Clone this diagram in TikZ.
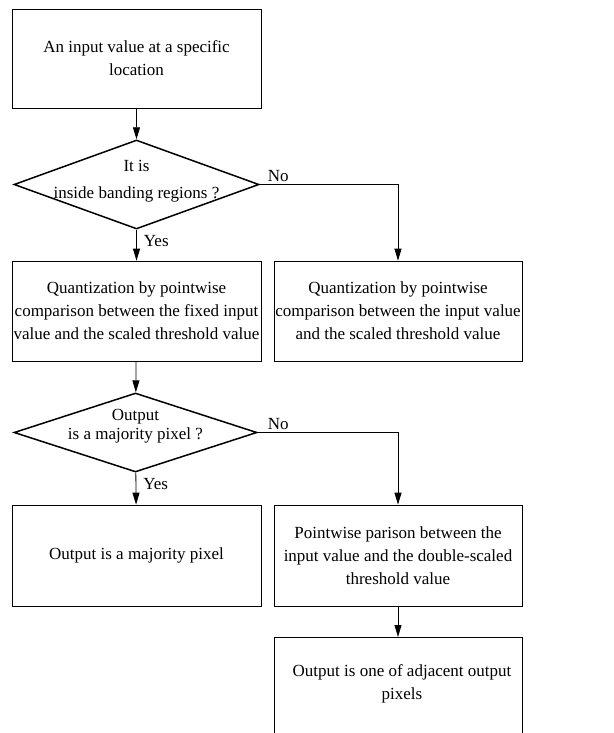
\documentclass[tikz,border=0pt]{standalone}
\usepackage{fontspec}
\setmainfont{Liberation Serif}
\usetikzlibrary{shapes.geometric,arrows.meta}

\begin{document}
\begin{tikzpicture}[x=1pt, y=-1pt,
  font=\fontsize{17}{23}\selectfont,
  stepbox/.style={draw, line width=0.7pt, rectangle, inner sep=0pt, minimum width=249pt, minimum height=100pt, align=center},
  decision/.style={draw, line width=1.5pt, diamond, inner sep=0pt},
  flow/.style={draw, line width=0.8pt, -{Triangle[length=12pt, width=7pt]}},
  answer/.style={inner sep=2pt}]
\useasboundingbox (0,0) rectangle (613,733);

\node[stepbox, minimum height=99pt] (input) at (136.5,58.5) {An input value at a specific\\location};
\node[decision, minimum width=245pt, minimum height=89pt,
  label={[align=center, yshift=3pt]center:It is\\[4pt]inside banding regions ?}] (banding) at (136.5,184.5) {};
\node[stepbox] (fixedq) at (136.5,311) {Quantization by pointwise\\comparison between the fixed input\\value and the scaled threshold value};
\node[stepbox, minimum width=248pt] (inputq) at (398,311) {Quantization by pointwise\\comparison between the input value\\and the scaled threshold value};
\node[decision, minimum width=243pt, minimum height=79pt,
  label={[align=center, font=\fontsize{17}{19}\selectfont, yshift=6pt]center:Output\\is a majority pixel ?}] (majority) at (135.5,432.5) {};
\node[stepbox, minimum height=101pt] (major) at (136.5,555.5) {Output is a majority pixel};
\node[stepbox, minimum width=248pt, minimum height=101pt] (double) at (398,555.5) {Pointwise parison between the\\input value and the double-scaled\\threshold value};
\node[stepbox, minimum width=248pt, minimum height=110pt, anchor=north] (adjacent) at (398,637) {};
\node[align=center] (adjtext) at (402,684) {Output is one of adjacent output\\pixels};

\draw[flow] (input) -- (banding);
\draw[flow] (banding) -- node[answer, right, pos=0.35, xshift=5pt] (yes1) {Yes} (fixedq);
\draw[flow] (banding.east) -| (inputq.north);
\node[answer, anchor=south west] (no1) at ([xshift=6pt, yshift=1pt]banding.east) {No};
\draw[flow] (fixedq) -- (majority);
\draw[flow] (majority) -- node[answer, right, pos=0.35, xshift=5pt] (yes2) {Yes} (major);
\draw[flow] (majority.east) -| (double.north);
\node[answer, anchor=south west] (no2) at ([xshift=8pt, yshift=1pt]majority.east) {No};
\draw[flow] (double) -- (adjacent);

\end{tikzpicture}
\end{document}
